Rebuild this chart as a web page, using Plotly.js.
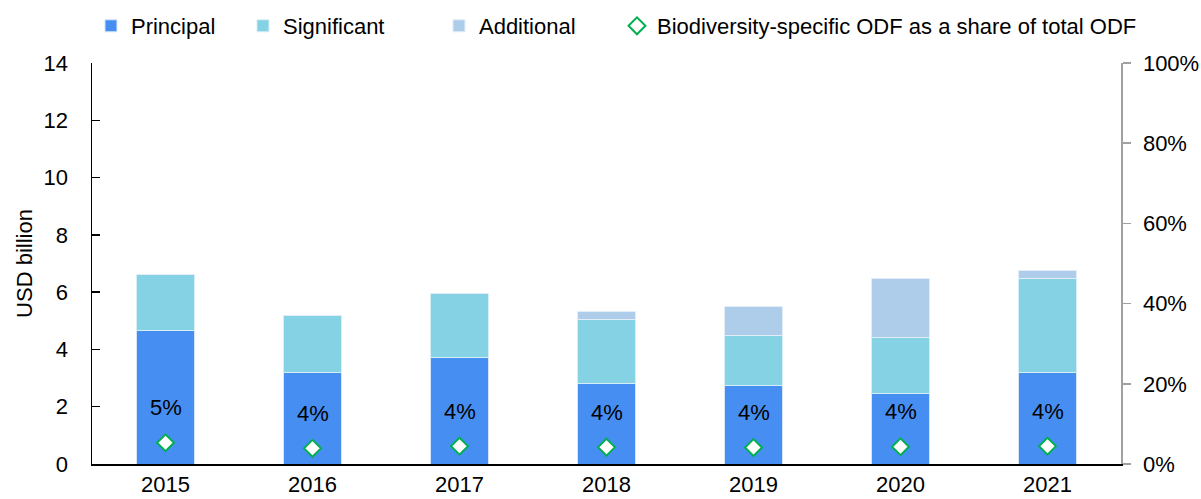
<!DOCTYPE html>
<html>
<head>
<meta charset="utf-8">
<script src="https://cdn.plot.ly/plotly-3.0.1.min.js"></script>
<style>html,body{margin:0;padding:0;background:#fff;}#chart{width:1201px;height:499px;}</style>
</head>
<body>
<div id="chart"></div>
<script>
const years = ['2015', '2016', '2017', '2018', '2019', '2020', '2021'];
const principal = [4.65, 3.19, 3.71, 2.80, 2.75, 2.45, 3.19];
const significant = [1.95, 1.98, 2.23, 2.25, 1.73, 1.95, 3.27];
const additional = [0, 0, 0, 0.27, 1.01, 2.09, 0.30];
const shareOfTotal = [5.3, 3.9, 4.45, 4.2, 4.1, 4.3, 4.45];

const FONT = '"Liberation Sans", Arial, sans-serif';
const FS = 22;

const traces = [
  {type: 'bar', name: 'Principal', x: years, y: principal,
   marker: {color: '#478ef2', line: {color: '#d6e6fa', width: 1}}, legendwidth: 107},
  {type: 'bar', name: 'Significant', x: years, y: significant,
   marker: {color: '#84d2e3', line: {color: '#d6eef5', width: 1}}, legendwidth: 151},
  {type: 'bar', name: 'Additional', x: years, y: additional,
   marker: {color: '#aecdeb', line: {color: '#e2edf8', width: 1}}, legendwidth: 133},
  {type: 'scatter', mode: 'markers', name: 'Biodiversity-specific ODF as a share of total ODF',
   x: years, y: shareOfTotal, yaxis: 'y2',
   marker: {symbol: 'diamond', size: 13, color: '#ffffff', line: {color: '#00b050', width: 2}}}
];

const annotations = years.map((yr, i) => ({
  x: i, y: shareOfTotal[i], xref: 'x', yref: 'y2',
  text: Math.round(shareOfTotal[i]) + '%', showarrow: false, yshift: 35,
  font: {family: FONT, size: FS, color: '#000'}
}));

const layout = {
  width: 1201, height: 499,
  margin: {l: 92, r: 80, t: 63, b: 35, autoexpand: false},
  paper_bgcolor: '#fff', plot_bgcolor: '#fff',
  font: {family: FONT, size: FS, color: '#000'},
  barmode: 'stack', bargap: 0.6,
  showlegend: true,
  legend: {orientation: 'h', x: -0.001, xanchor: 'left', y: 1.0923, yanchor: 'middle',
           traceorder: 'normal', font: {family: FONT, size: FS, color: '#000'},
           bgcolor: 'rgba(0,0,0,0)', itemclick: false},
  xaxis: {type: 'category', range: [-0.5, years.length - 0.5], showline: true, linecolor: '#000', linewidth: 2, ticks: '',
          showgrid: false, zeroline: false, tickfont: {family: FONT, size: FS}},
  yaxis: {range: [0, 14], dtick: 2, showline: true, linecolor: '#000', linewidth: 1.5,
          ticks: 'inside', ticklen: 8, tickcolor: '#000', tickwidth: 1.5, showgrid: false, zeroline: false,
          ticklabelstandoff: 18,
          title: {text: 'USD billion', font: {family: FONT, size: FS}, standoff: 5},
          tickfont: {family: FONT, size: FS}},
  yaxis2: {range: [0, 100], dtick: 20, ticksuffix: '%', overlaying: 'y', side: 'right',
           showline: true, linecolor: '#a0a0a0', linewidth: 1.5, ticks: 'outside', ticklen: 8,
           tickcolor: '#a0a0a0', tickwidth: 1.5, showgrid: false, zeroline: false,
           ticklabelstandoff: 8, tickfont: {family: FONT, size: FS}},
  annotations: annotations
};

Plotly.newPlot('chart', traces, layout, {displayModeBar: false, staticPlot: true});
</script>
</body>
</html>
